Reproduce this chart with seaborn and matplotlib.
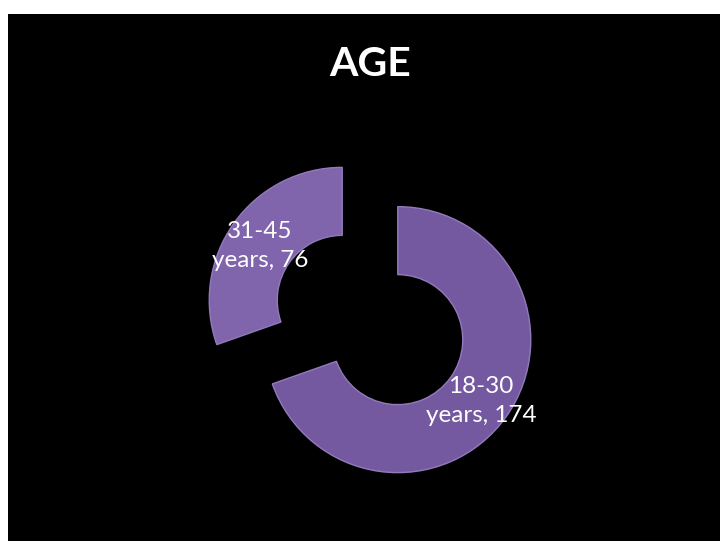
import matplotlib
matplotlib.use("Agg")
import matplotlib.pyplot as plt
import seaborn as sns
from matplotlib.patches import Rectangle

# Data
categories = ["18-30 years", "31-45 years"]
values = [174, 76]
label_lines = [("18-30", "years, 174"), ("31-45", "years, 76")]
title = "AGE"

sns.set_theme(style="dark")
plt.rcParams['font.family'] = ['Lato', 'DejaVu Sans']

W, H = 720, 541
fig = plt.figure(figsize=(W / 100, H / 100), dpi=100, facecolor="white")
ax = fig.add_axes([0, 0, 1, 1])
ax.set_facecolor("white")

# black slide area
ax.add_patch(Rectangle((8, 0), W - 8, H - 14, facecolor="black", edgecolor="none", zorder=0))

colors = ["#7459A0", "#8064AC"]
cx, cy = 370, H - 320
R_out, R_in = 133, 65
wedges, _ = ax.pie(values, colors=colors, startangle=90, counterclock=False,
                   radius=R_out, center=(cx, cy), explode=[34, 34],
                   wedgeprops=dict(width=R_out - R_in, edgecolor="#927ABB", linewidth=1.0))
for w in wedges:
    w.set_zorder(2)

ax.set_xlim(0, W)
ax.set_ylim(0, H)
ax.set_aspect("auto")
ax.axis("off")

# data labels
label_pos = [(481, H - 401), (260, H - 246)]
for (l1, l2), (x, y) in zip(label_lines, label_pos):
    ax.text(x, y, f"{l1}\n{l2}", ha="center", va="center", color="white",
            fontsize=17.5, linespacing=1.45, zorder=3)

ax.text(370, H - 64, title, ha="center", va="center", color="white",
        fontsize=29.5, fontweight="bold", zorder=3)

fig.savefig("out.png", dpi=100, facecolor="white")
